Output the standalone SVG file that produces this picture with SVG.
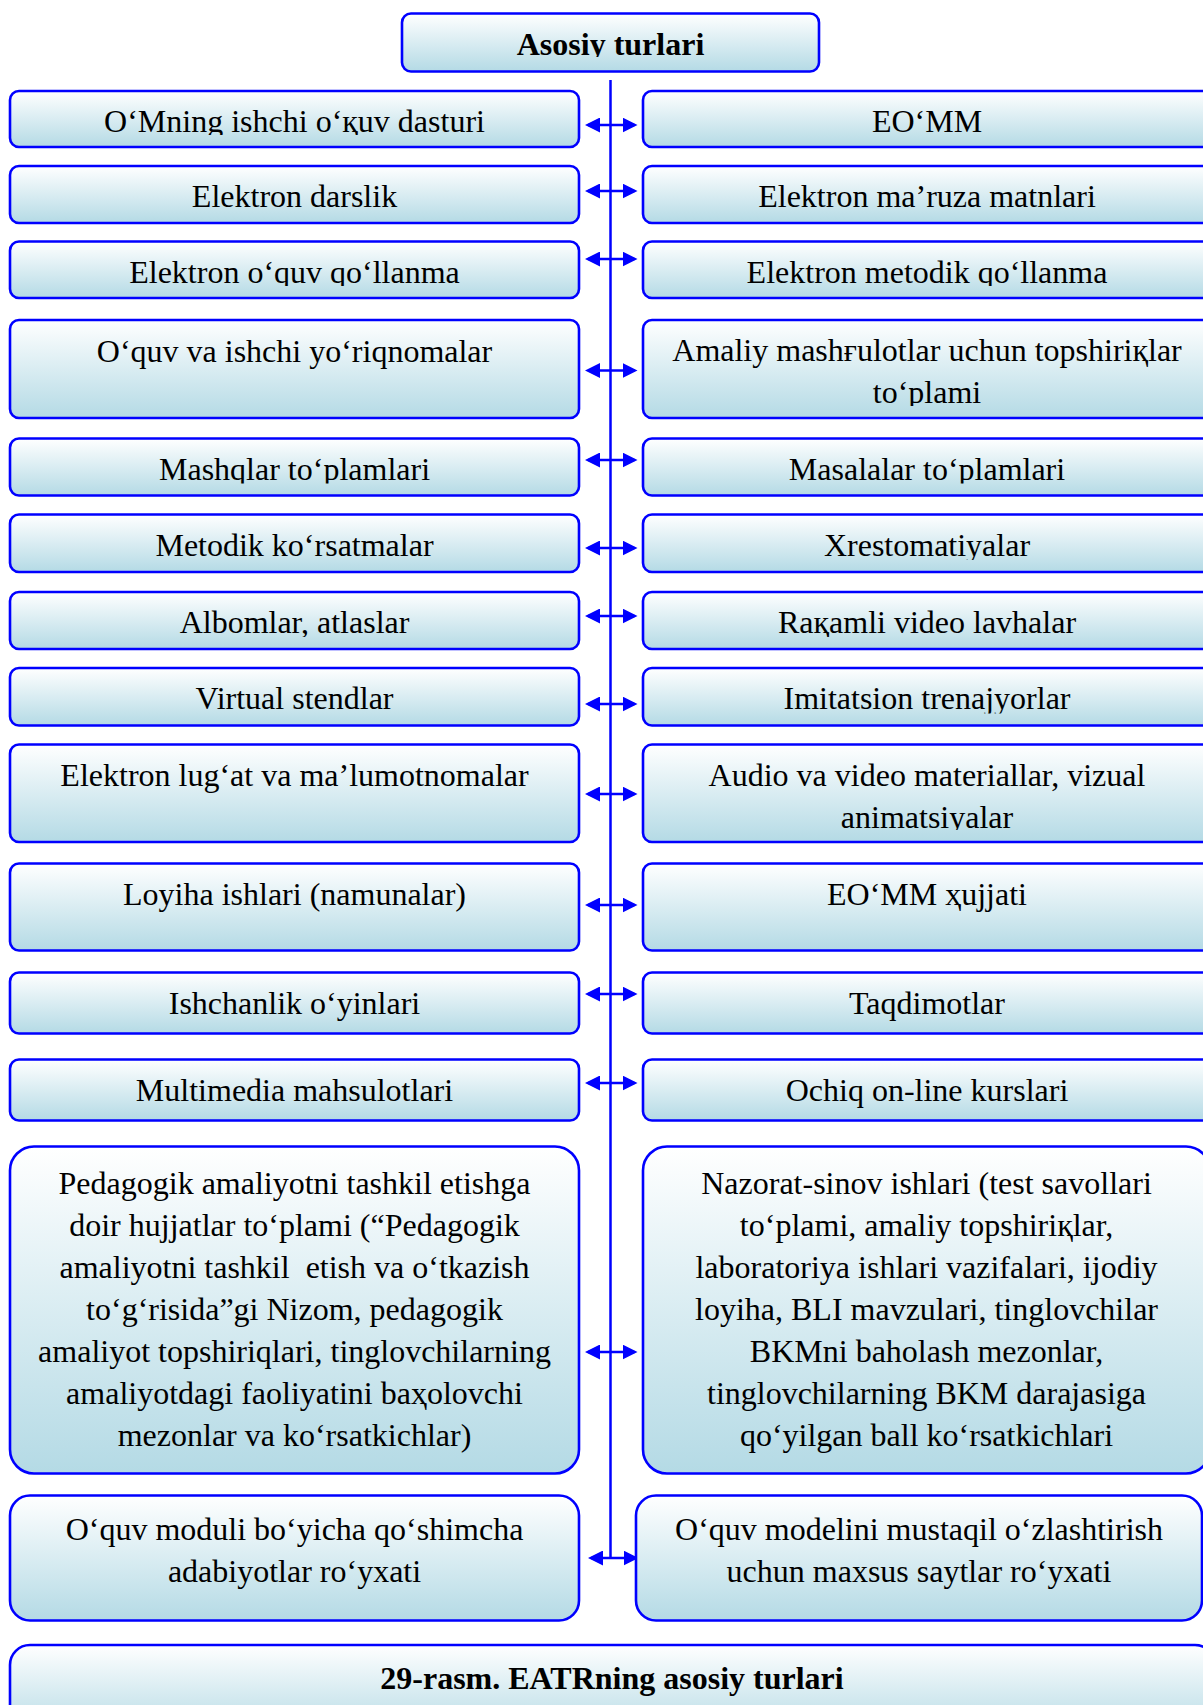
<svg xmlns="http://www.w3.org/2000/svg" width="1203" height="1705" viewBox="0 0 1203 1705">
<style>
.box{fill:url(#grad);stroke:#0000ff;stroke-width:2.6}
.t{font-family:"Liberation Serif","DejaVu Serif",serif;font-size:32px;fill:#000;text-anchor:middle}
.b{font-weight:bold}
.conn{stroke:#0000ff;stroke-width:2.5;fill:none}
.arr{marker-start:url(#ah);marker-end:url(#ah)}
</style>
<defs>
<linearGradient id="grad" x1="0" y1="0" x2="0" y2="1">
<stop offset="0" stop-color="#ffffff"/>
<stop offset="1" stop-color="#b4dae5"/>
</linearGradient>
<marker id="ah" viewBox="0 0 15 15" refX="12" refY="7.5" markerWidth="15" markerHeight="15" markerUnits="userSpaceOnUse" orient="auto-start-reverse">
<path d="M0,0 L15,7.5 L0,15 z" fill="#0000ff"/>
</marker>
<clipPath id="tc" clipPathUnits="userSpaceOnUse">
<rect x="402" y="13.5" width="417" height="43.5"/>
<rect x="10" y="91" width="1210" height="44"/>
<rect x="10" y="166" width="1210" height="45"/>
<rect x="10" y="241.5" width="1210" height="44.5"/>
<rect x="10" y="320" width="1210" height="86"/>
<rect x="10" y="438.5" width="1210" height="45"/>
<rect x="10" y="514.5" width="1210" height="45.5"/>
<rect x="10" y="592" width="1210" height="45"/>
<rect x="10" y="668" width="1210" height="45.5"/>
<rect x="10" y="744.5" width="1210" height="85.5"/>
<rect x="10" y="863.5" width="1210" height="75"/>
<rect x="10" y="972.5" width="1210" height="49"/>
<rect x="10" y="1059.5" width="1210" height="49"/>
<rect x="10" y="1146.5" width="1210" height="315"/>
<rect x="10" y="1495.5" width="1210" height="113"/>
<rect x="10" y="1645" width="1210" height="80"/>
</clipPath>
</defs>
<rect width="1203" height="1705" fill="#ffffff"/>

<g id="connectors">
<line class="conn" x1="610.5" y1="80" x2="610.5" y2="1558"/>
<line class="conn arr" x1="588" y1="125" x2="634.5" y2="125"/>
<line class="conn arr" x1="588" y1="191" x2="634.5" y2="191"/>
<line class="conn arr" x1="588" y1="259" x2="634.5" y2="259"/>
<line class="conn arr" x1="588" y1="370.5" x2="634.5" y2="370.5"/>
<line class="conn arr" x1="588" y1="460" x2="634.5" y2="460"/>
<line class="conn arr" x1="588" y1="548" x2="634.5" y2="548"/>
<line class="conn arr" x1="588" y1="616" x2="634.5" y2="616"/>
<line class="conn arr" x1="588" y1="704" x2="634.5" y2="704"/>
<line class="conn arr" x1="588" y1="794" x2="634.5" y2="794"/>
<line class="conn arr" x1="588" y1="905" x2="634.5" y2="905"/>
<line class="conn arr" x1="588" y1="994" x2="634.5" y2="994"/>
<line class="conn arr" x1="588" y1="1083" x2="634.5" y2="1083"/>
<line class="conn arr" x1="588" y1="1352" x2="634.5" y2="1352"/>
<line class="conn arr" x1="591" y1="1558" x2="635.5" y2="1558"/>
</g>

<g id="title">
<rect class="box" x="402" y="13.5" width="417" height="58" rx="9"/>
<text class="t b" x="610.5" y="55" clip-path="url(#tc)">Asosiy turlari</text>
</g>

<g id="l1"><rect class="box" x="10" y="91" width="569" height="56" rx="9"/>
<text class="t" x="294.5" y="132" clip-path="url(#tc)">O‘Mning ishchi o‘қuv dasturi</text></g>
<g id="r1"><rect class="box" x="643" y="91" width="575" height="56" rx="9"/>
<text class="t" x="927" y="132" clip-path="url(#tc)">EO‘MM</text></g>

<g id="l2"><rect class="box" x="10" y="166" width="569" height="57" rx="9"/>
<text class="t" x="294.5" y="207" clip-path="url(#tc)">Elektron darslik</text></g>
<g id="r2"><rect class="box" x="643" y="166" width="575" height="57" rx="9"/>
<text class="t" x="927" y="207" clip-path="url(#tc)">Elektron ma’ruza matnlari</text></g>

<g id="l3"><rect class="box" x="10" y="241.5" width="569" height="56.5" rx="9"/>
<text class="t" x="294.5" y="282.5" clip-path="url(#tc)">Elektron o‘quv qo‘llanma</text></g>
<g id="r3"><rect class="box" x="643" y="241.5" width="575" height="56.5" rx="9"/>
<text class="t" x="927" y="282.5" clip-path="url(#tc)">Elektron metodik qo‘llanma</text></g>

<g id="l4"><rect class="box" x="10" y="320" width="569" height="98" rx="9"/>
<text class="t" x="294.5" y="362" clip-path="url(#tc)">O‘quv va ishchi yo‘riqnomalar</text></g>
<g id="r4"><rect class="box" x="643" y="320" width="575" height="98" rx="9"/>
<text class="t" x="927" y="361" clip-path="url(#tc)">Amaliy mashғulotlar uchun topshiriқlar</text>
<text class="t" x="927" y="402.5" clip-path="url(#tc)">to‘plami</text></g>

<g id="l5"><rect class="box" x="10" y="438.5" width="569" height="57" rx="9"/>
<text class="t" x="294.5" y="480" clip-path="url(#tc)">Mashqlar to‘plamlari</text></g>
<g id="r5"><rect class="box" x="643" y="438.5" width="575" height="57" rx="9"/>
<text class="t" x="927" y="480" clip-path="url(#tc)">Masalalar to‘plamlari</text></g>

<g id="l6"><rect class="box" x="10" y="514.5" width="569" height="57.5" rx="9"/>
<text class="t" x="294.5" y="556" clip-path="url(#tc)">Metodik ko‘rsatmalar</text></g>
<g id="r6"><rect class="box" x="643" y="514.5" width="575" height="57.5" rx="9"/>
<text class="t" x="927" y="556" clip-path="url(#tc)">Xrestomatiyalar</text></g>

<g id="l7"><rect class="box" x="10" y="592" width="569" height="57" rx="9"/>
<text class="t" x="294.5" y="633" clip-path="url(#tc)">Albomlar, atlaslar</text></g>
<g id="r7"><rect class="box" x="643" y="592" width="575" height="57" rx="9"/>
<text class="t" x="927" y="633" clip-path="url(#tc)">Raқamli video lavhalar</text></g>

<g id="l8"><rect class="box" x="10" y="668" width="569" height="57.5" rx="9"/>
<text class="t" x="294.5" y="709" clip-path="url(#tc)">Virtual stendlar</text></g>
<g id="r8"><rect class="box" x="643" y="668" width="575" height="57.5" rx="9"/>
<text class="t" x="927" y="709" clip-path="url(#tc)">Imitatsion trenajyorlar</text></g>

<g id="l9"><rect class="box" x="10" y="744.5" width="569" height="97.5" rx="9"/>
<text class="t" x="294.5" y="785.5" clip-path="url(#tc)">Elektron lug‘at va ma’lumotnomalar</text></g>
<g id="r9"><rect class="box" x="643" y="744.5" width="575" height="97.5" rx="9"/>
<text class="t" x="927" y="785.5" clip-path="url(#tc)">Audio va video materiallar, vizual</text>
<text class="t" x="927" y="827.5" clip-path="url(#tc)">animatsiyalar</text></g>

<g id="l10"><rect class="box" x="10" y="863.5" width="569" height="87" rx="9"/>
<text class="t" x="294.5" y="905" clip-path="url(#tc)">Loyiha ishlari (namunalar)</text></g>
<g id="r10"><rect class="box" x="643" y="863.5" width="575" height="87" rx="9"/>
<text class="t" x="927" y="905" clip-path="url(#tc)">EO‘MM ҳujjati</text></g>

<g id="l11"><rect class="box" x="10" y="972.5" width="569" height="61" rx="9"/>
<text class="t" x="294.5" y="1013.5" clip-path="url(#tc)">Ishchanlik o‘yinlari</text></g>
<g id="r11"><rect class="box" x="643" y="972.5" width="575" height="61" rx="9"/>
<text class="t" x="927" y="1013.5" clip-path="url(#tc)">Taqdimotlar</text></g>

<g id="l12"><rect class="box" x="10" y="1059.5" width="569" height="61" rx="9"/>
<text class="t" x="294.5" y="1100.5" clip-path="url(#tc)">Multimedia mahsulotlari</text></g>
<g id="r12"><rect class="box" x="643" y="1059.5" width="575" height="61" rx="9"/>
<text class="t" x="927" y="1100.5" clip-path="url(#tc)">Ochiq on-line kurslari</text></g>

<g id="l13"><rect class="box" x="10" y="1146.5" width="569" height="327" rx="24"/>
<text class="t" x="294.5" y="1194" clip-path="url(#tc)">Pedagogik amaliyotni tashkil etishga</text>
<text class="t" x="294.5" y="1236" clip-path="url(#tc)">doir hujjatlar to‘plami (“Pedagogik</text>
<text class="t" x="294.5" y="1278" clip-path="url(#tc)" style="white-space:pre">amaliyotni tashkil  etish va o‘tkazish</text>
<text class="t" x="294.5" y="1320" clip-path="url(#tc)">to‘g‘risida”gi Nizom, pedagogik</text>
<text class="t" x="294.5" y="1362" clip-path="url(#tc)">amaliyot topshiriqlari, tinglovchilarning</text>
<text class="t" x="294.5" y="1404" clip-path="url(#tc)">amaliyotdagi faoliyatini baҳolovchi</text>
<text class="t" x="294.5" y="1446" clip-path="url(#tc)">mezonlar va ko‘rsatkichlar)</text></g>
<g id="r13"><rect class="box" x="643" y="1146.5" width="567" height="327" rx="24"/>
<text class="t" x="926.5" y="1194" clip-path="url(#tc)">Nazorat-sinov ishlari (test savollari</text>
<text class="t" x="926.5" y="1236" clip-path="url(#tc)">to‘plami, amaliy topshiriқlar,</text>
<text class="t" x="926.5" y="1278" clip-path="url(#tc)">laboratoriya ishlari vazifalari, ijodiy</text>
<text class="t" x="926.5" y="1320" clip-path="url(#tc)">loyiha, BLI mavzulari, tinglovchilar</text>
<text class="t" x="926.5" y="1362" clip-path="url(#tc)">BKMni baholash mezonlar,</text>
<text class="t" x="926.5" y="1404" clip-path="url(#tc)">tinglovchilarning BKM darajasiga</text>
<text class="t" x="926.5" y="1446" clip-path="url(#tc)">qo‘yilgan ball ko‘rsatkichlari</text></g>

<g id="l14"><rect class="box" x="10" y="1495.5" width="569" height="125" rx="20"/>
<text class="t" x="294.5" y="1540" clip-path="url(#tc)">O‘quv moduli bo‘yicha qo‘shimcha</text>
<text class="t" x="294.5" y="1582" clip-path="url(#tc)">adabiyotlar ro‘yxati</text></g>
<g id="r14"><rect class="box" x="636" y="1495.5" width="566" height="125" rx="20"/>
<text class="t" x="919" y="1540" clip-path="url(#tc)">O‘quv modelini mustaqil o‘zlashtirish</text>
<text class="t" x="919" y="1582" clip-path="url(#tc)">uchun maxsus saytlar ro‘yxati</text></g>

<g id="caption"><rect class="box" x="10" y="1645" width="1205" height="90" rx="20"/>
<text class="t b" x="612" y="1689" clip-path="url(#tc)">29-rasm. EATRning asosiy turlari</text></g>
</svg>
